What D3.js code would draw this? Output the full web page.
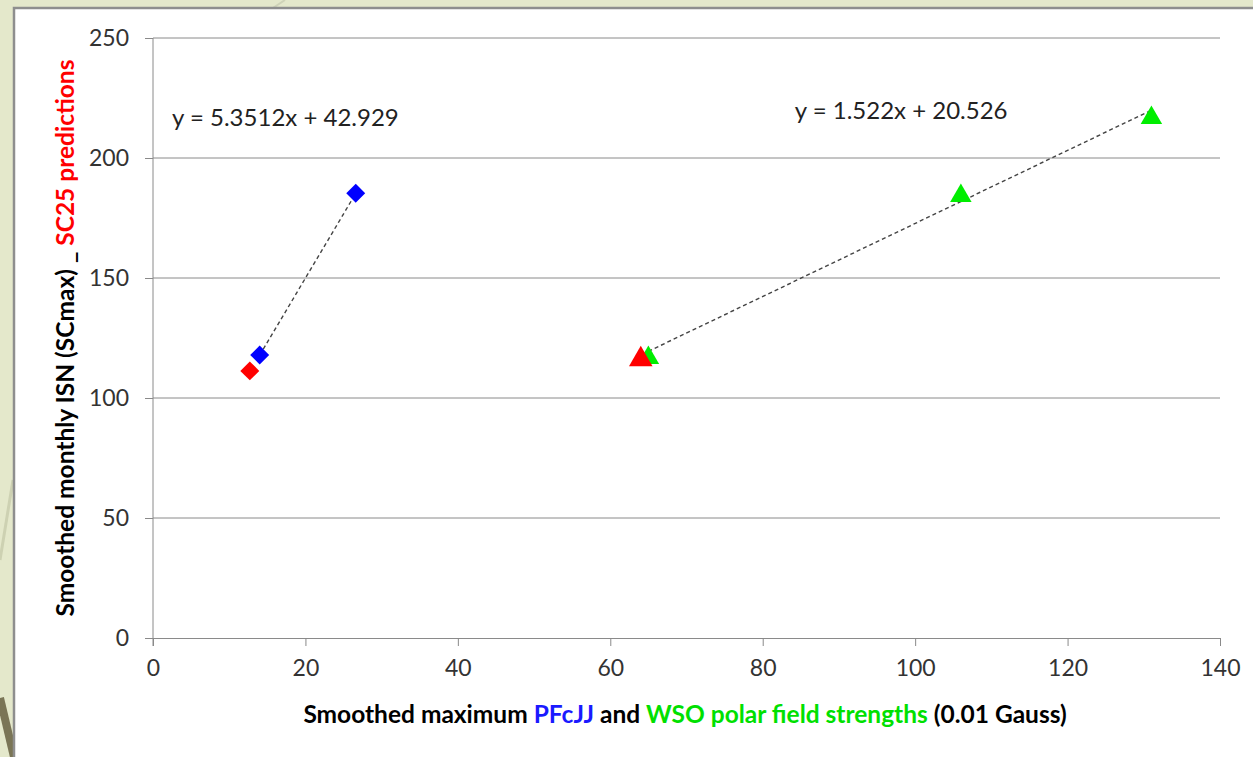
<!DOCTYPE html>
<meta charset="utf-8">
<style>
body { margin: 0; background: #e4e8cb; overflow: hidden; }
svg { display: block; }
.tick text { font-family: Lato, "Open Sans", sans-serif; font-size: 23px; fill: #333; }
.axis path, .axis line { stroke: #8a8a8a; }
.grid line { stroke: #8a8a8a; }
</style>
<body>
<script src="https://d3js.org/d3.v7.min.js"></script>
<script>

// series values
var pfcjj = [{x: 14.0, y: 117.9}, {x: 26.6, y: 185.3}];
var pfcjjPred = [{x: 12.7, y: 111.3}];
var wso = [{x: 65.0, y: 118.0}, {x: 106.0, y: 185.5}, {x: 131.0, y: 218.0}];
var wsoPred = [{x: 64.0, y: 117.5}];

// trend lines as printed on the chart
var fitPfcjj = {slope: 5.3512, intercept: 42.929, label: "y = 5.3512x + 42.929"};
var fitWso = {slope: 1.522, intercept: 20.526, label: "y = 1.522x + 20.526"};

var xTicks = [0, 20, 40, 60, 80, 100, 120, 140];
var yTicks = [0, 50, 100, 150, 200, 250];

var W = 1253, H = 757;
var margin = {top: 38, right: 33, bottom: 119, left: 153},
    width = W - margin.left - margin.right,
    height = H - margin.top - margin.bottom;

var svg = d3.select("body").append("svg")
    .attr("width", W)
    .attr("height", H);

// slide background decorations
svg.append("line").attr("x1", 0).attr("y1", 560).attr("x2", 13).attr("y2", 480)
    .style("stroke", "#cdd1b2").style("stroke-width", 3);
svg.append("line").attr("x1", 0).attr("y1", 698).attr("x2", 14).attr("y2", 757)
    .style("stroke", "#7a7556").style("stroke-width", 8);
svg.append("line").attr("x1", 270).attr("y1", 10).attr("x2", 285).attr("y2", 0)
    .style("stroke", "#cfd3b8").style("stroke-width", 2);

// white chart box
svg.append("rect")
    .attr("x", 14).attr("y", 8)
    .attr("width", W + 10).attr("height", H + 10)
    .style("fill", "#fff")
    .style("stroke", "#8e8e8e")
    .style("stroke-width", 2.5);

var g = svg.append("g")
    .attr("transform", "translate(" + margin.left + "," + margin.top + ")");

var x = d3.scaleLinear().domain([0, 140]).range([0, width]);
var y = d3.scaleLinear().domain([0, 250]).range([height, 0]);

// gridlines
g.append("g").attr("class", "grid")
  .selectAll("line")
    .data(yTicks.filter(function(d) { return d > 0; }))
  .enter().append("line")
    .attr("x1", 0).attr("x2", width)
    .attr("y1", function(d) { return y(d); })
    .attr("y2", function(d) { return y(d); });

// axes
g.append("g").attr("class", "axis")
    .attr("transform", "translate(0," + height + ")")
    .call(d3.axisBottom(x).tickValues(xTicks).tickSize(8).tickSizeOuter(8).tickPadding(14));

var yAxis = g.append("g").attr("class", "axis")
    .call(d3.axisLeft(y).tickValues(yTicks).tickSize(8).tickSizeOuter(0).tickPadding(16));
yAxis.select(".domain").remove();

// y axis line runs down past 0 like the x ticks
g.append("line")
    .attr("x1", 0).attr("x2", 0).attr("y1", 0).attr("y2", height + 8)
    .style("stroke", "#8a8a8a");

// trend lines
function trend(fit, data) {
  var ext = d3.extent(data, function(d) { return d.x; });
  g.append("line")
    .attr("x1", x(ext[0])).attr("y1", y(fit.slope * ext[0] + fit.intercept))
    .attr("x2", x(ext[1])).attr("y2", y(fit.slope * ext[1] + fit.intercept))
    .style("stroke", "#444")
    .style("stroke-width", 1.4)
    .style("stroke-dasharray", "4,3");
}
trend(fitPfcjj, pfcjj);
trend(fitWso, wso);

// markers (triangles shifted so their box, not centroid, sits on the point)
function markers(data, type, size, color) {
  var dy = type === "triangle" ? Math.sqrt(size / (Math.sqrt(3) * 3)) / 2 : 0;
  g.selectAll(null)
      .data(data)
    .enter().append("path")
      .attr("transform", function(d) {
        return "translate(" + x(d.x) + "," + (y(d.y) + dy) + ")" + (type === "diamond" ? " rotate(45)" : "");
      })
      .attr("d", d3.symbol().type(type === "diamond" ? d3.symbolSquare : d3.symbolTriangle).size(size))
      .style("fill", color);
}
markers(pfcjj, "diamond", 180, "#0000ff");
markers(pfcjjPred, "diamond", 180, "#ff0000");
markers(wso, "triangle", 200, "#00ee00");
markers(wsoPred, "triangle", 240, "#ff0000");

// equation labels
g.append("text")
    .attr("x", x(2.5)).attr("y", y(213.5))
    .style("font-family", "Lato, 'Open Sans', sans-serif")
    .style("font-size", "24px").style("fill", "#222")
    .text(fitPfcjj.label);
g.append("text")
    .attr("x", x(84.2)).attr("y", y(216.3))
    .style("font-family", "Lato, 'Open Sans', sans-serif")
    .style("font-size", "24px").style("fill", "#222")
    .text(fitWso.label);

// axis titles
var xt = svg.append("text")
    .attr("x", 685).attr("y", 723)
    .attr("text-anchor", "middle")
    .style("font-family", "Lato, 'Open Sans', sans-serif")
    .style("font-weight", "bold").style("font-size", "24.5px");
xt.append("tspan").text("Smoothed maximum ");
xt.append("tspan").style("fill", "#1a1aff").text("PFcJJ");
xt.append("tspan").text(" and ");
xt.append("tspan").style("fill", "#00e000").text("WSO polar field strengths");
xt.append("tspan").text(" (0.01 Gauss)");

var yt = svg.append("text")
    .attr("transform", "translate(74,338) rotate(-90)")
    .attr("text-anchor", "middle")
    .style("font-family", "Lato, 'Open Sans', sans-serif")
    .style("font-weight", "bold").style("font-size", "24.5px");
yt.append("tspan").text("Smoothed monthly ISN (SCmax) _ ");
yt.append("tspan").style("fill", "#ff0000").text("SC25 predictions");

</script>
</body>
